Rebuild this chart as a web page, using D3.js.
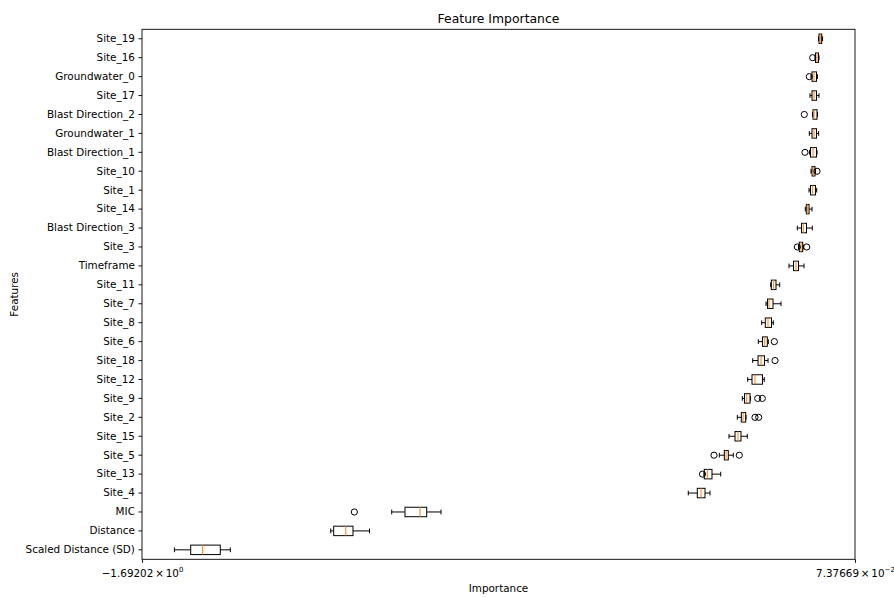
<!DOCTYPE html>
<html>
<head>
<meta charset="utf-8">
<script src="https://cdn.jsdelivr.net/npm/d3@7"></script>
<style>
  html, body { margin: 0; padding: 0; background: #fff; }
  svg { display: block; font-family: "DejaVu Sans", sans-serif; }
</style>
</head>
<body>
<svg id="chart" width="894" height="597"></svg>
<script>
// Permutation importance per feature (top row first)
const categories = ["Site_19","Site_16","Groundwater_0","Site_17","Blast Direction_2","Groundwater_1",
  "Blast Direction_1","Site_10","Site_1","Site_14","Blast Direction_3","Site_3","Timeframe","Site_11",
  "Site_7","Site_8","Site_6","Site_18","Site_12","Site_9","Site_2","Site_15","Site_5","Site_13",
  "Site_4","MIC","Distance","Scaled Distance (SD)"];

const whiskerLow  = [-0.0166,-0.0253,-0.0352,-0.0377,-0.0315,-0.0394,-0.0389,-0.0352,-0.0401,-0.0493,-0.0691,-0.0662,-0.0897,-0.1350,-0.1466,-0.1573,-0.1657,-0.1796,-0.1920,-0.2053,-0.2177,-0.2383,-0.2623,-0.3002,-0.3391,-1.0736,-1.2247,-1.6118];
const q1          = [-0.0154,-0.0241,-0.0327,-0.0327,-0.0302,-0.0327,-0.0364,-0.0327,-0.0364,-0.0468,-0.0587,-0.0642,-0.0785,-0.1335,-0.1429,-0.1484,-0.1553,-0.1664,-0.1813,-0.1999,-0.2078,-0.2234,-0.2499,-0.2995,-0.3168,-1.0407,-1.2173,-1.5714];
const median      = [-0.0122,-0.0203,-0.0278,-0.0278,-0.0278,-0.0278,-0.0302,-0.0295,-0.0310,-0.0444,-0.0543,-0.0600,-0.0723,-0.1276,-0.1392,-0.1417,-0.1498,-0.1590,-0.1739,-0.1944,-0.2036,-0.2160,-0.2457,-0.2920,-0.3076,-1.0035,-1.1873,-1.5417];
const q3          = [-0.0087,-0.0166,-0.0216,-0.0216,-0.0203,-0.0216,-0.0216,-0.0253,-0.0241,-0.0401,-0.0463,-0.0558,-0.0661,-0.1219,-0.1293,-0.1330,-0.1434,-0.1503,-0.1553,-0.1862,-0.1969,-0.2086,-0.2400,-0.2804,-0.2977,-0.9869,-1.1695,-1.4981];
const whiskerHigh = [-0.0065,-0.0154,-0.0191,-0.0154,-0.0191,-0.0162,-0.0203,-0.0241,-0.0211,-0.0327,-0.0320,-0.0538,-0.0525,-0.1127,-0.1095,-0.1286,-0.1409,-0.1416,-0.1509,-0.1850,-0.1962,-0.1930,-0.2276,-0.2588,-0.2853,-0.9515,-1.1286,-1.4733];
const outliers    = [[],[-0.0310],[-0.0394],[],[-0.0518],[],[-0.0501],[-0.0203],[],[],[],[-0.0691,-0.0458],[],[],[],[],[-0.1260],[-0.1243],[],[-0.1672,-0.1558],[-0.1739,-0.1647],[],[-0.2754,-0.2128],[-0.3039],[],[-1.1662],[],[]];

// x tick values: axis limits, shown as mantissa × 10^exponent
const xTicks = [-1.69202, 0.0737669];
const xTickMantissa = ["\u22121.69202", "7.37669"];
const xTickExponent = ["0", "\u22122"];

const margin = { left: 142, right: 855, top: 29.3, bottom: 559.3 };
const svg = d3.select("#chart");

const x = d3.scaleLinear().domain([xTicks[0], xTicks[1]]).range([margin.left, margin.right]);
const y = d3.scaleBand().domain(categories).range([margin.top, margin.bottom])
  .paddingInner(0.5).paddingOuter(0.25);

const rows = categories.map((c, i) => ({
  name: c, lo: whiskerLow[i], q1: q1[i], med: median[i], q3: q3[i], hi: whiskerHigh[i], out: outliers[i]
}));

const bw = y.bandwidth();
const cy = d => y(d.name) + bw / 2;
const capHalf = bw / 4;

const g = svg.append("g");
const box = g.selectAll("g.box").data(rows).join("g").attr("class", "box");

// whiskers
box.append("line").attr("x1", d => x(d.lo)).attr("x2", d => x(d.q1))
  .attr("y1", cy).attr("y2", cy).attr("stroke", "#000").attr("stroke-width", 1);
box.append("line").attr("x1", d => x(d.q3)).attr("x2", d => x(d.hi))
  .attr("y1", cy).attr("y2", cy).attr("stroke", "#000").attr("stroke-width", 1);
// caps
box.append("line").attr("x1", d => x(d.lo)).attr("x2", d => x(d.lo))
  .attr("y1", d => cy(d) - capHalf).attr("y2", d => cy(d) + capHalf).attr("stroke", "#000").attr("stroke-width", 1);
box.append("line").attr("x1", d => x(d.hi)).attr("x2", d => x(d.hi))
  .attr("y1", d => cy(d) - capHalf).attr("y2", d => cy(d) + capHalf).attr("stroke", "#000").attr("stroke-width", 1);
// box
box.append("rect").attr("x", d => x(d.q1)).attr("width", d => x(d.q3) - x(d.q1))
  .attr("y", d => y(d.name)).attr("height", bw)
  .attr("fill", "none").attr("stroke", "#000").attr("stroke-width", 1);
// median
box.append("line").attr("x1", d => x(d.med)).attr("x2", d => x(d.med))
  .attr("y1", d => y(d.name)).attr("y2", d => y(d.name) + bw)
  .attr("stroke", "#ff7f0e").attr("stroke-width", 1);
// fliers
box.selectAll("circle").data(d => d.out.map(v => ({ v, d }))).join("circle")
  .attr("cx", o => x(o.v)).attr("cy", o => cy(o.d)).attr("r", 3.1)
  .attr("fill", "none").attr("stroke", "#000").attr("stroke-width", 1);

// frame
svg.append("rect").attr("x", margin.left).attr("y", margin.top)
  .attr("width", margin.right - margin.left).attr("height", margin.bottom - margin.top)
  .attr("fill", "none").attr("stroke", "#000").attr("stroke-width", 0.9);

// y axis
const yAxis = svg.append("g").attr("transform", `translate(${margin.left},0)`)
  .call(d3.axisLeft(y).tickSize(3.6).tickSizeOuter(0).tickPadding(3.5));
yAxis.select(".domain").remove();
yAxis.selectAll("text").attr("font-size", "10.4px").attr("fill", "#000").attr("font-family", "DejaVu Sans");
yAxis.selectAll("line").attr("stroke", "#000").attr("stroke-width", 0.9);

// x axis
const xAxis = svg.append("g").attr("transform", `translate(0,${margin.bottom})`)
  .call(d3.axisBottom(x).tickValues(xTicks).tickSize(3.6).tickSizeOuter(0).tickFormat(""));
xAxis.select(".domain").remove();
xAxis.selectAll("line").attr("stroke", "#000").attr("stroke-width", 0.9);
xAxis.selectAll(".tick").each(function (v, i) {
  const t = d3.select(this).append("text").attr("y", 17.5).attr("text-anchor", "middle")
    .attr("fill", "#000").attr("font-size", "10.4px").attr("font-family", "DejaVu Sans");
  t.append("tspan").text(xTickMantissa[i]);
  t.append("tspan").attr("dx", 1.8).text("\u00d7");
  t.append("tspan").attr("dx", 1.8).text("10");
  t.append("tspan").attr("dy", -4.5).attr("font-size", "7px").text(xTickExponent[i]);
});

// labels
svg.append("text").attr("x", (margin.left + margin.right) / 2).attr("y", 23)
  .attr("text-anchor", "middle").attr("font-size", "12.4px").attr("fill", "#000").text("Feature Importance");
svg.append("text").attr("x", (margin.left + margin.right) / 2).attr("y", 592)
  .attr("text-anchor", "middle").attr("font-size", "10.4px").attr("fill", "#000").text("Importance");
svg.append("text").attr("transform", `translate(18,${(margin.top + margin.bottom) / 2}) rotate(-90)`)
  .attr("text-anchor", "middle").attr("font-size", "10.4px").attr("fill", "#000").text("Features");
</script>
</body>
</html>
